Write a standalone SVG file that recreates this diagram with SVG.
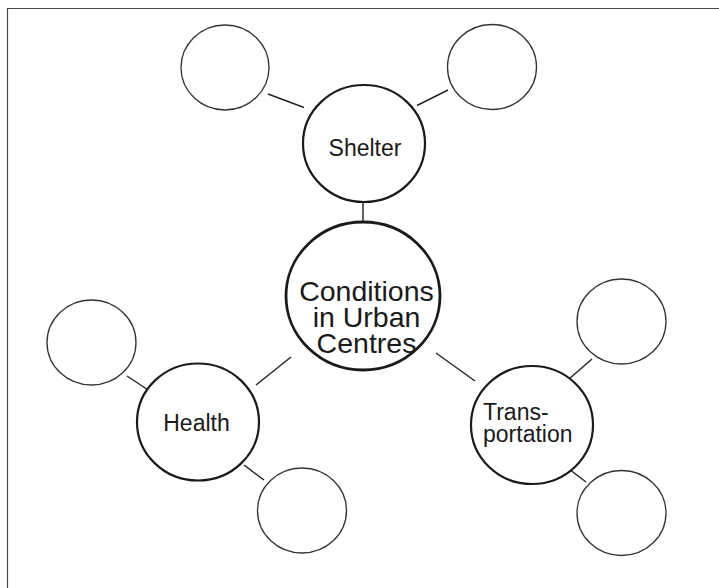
<svg xmlns="http://www.w3.org/2000/svg" width="719" height="588" viewBox="0 0 719 588">
<style>
.frame{fill:none;stroke:#444;stroke-width:1.2}
.small{fill:#fff;stroke:#333;stroke-width:1.3}
.main{fill:#fff;stroke:#1a1a1a;stroke-width:2.2}
.center{fill:#fff;stroke:#1a1a1a;stroke-width:2.8}
.conn line{stroke:#222;stroke-width:1.4}
text{font-family:"Liberation Sans",Arial,sans-serif;fill:#1a1a1a}
.lbl{font-size:23px}
.big{font-size:28.5px;text-anchor:middle}
</style>
<rect width="719" height="588" fill="#fff"/>
<path class="frame" d="M7.5,588 V8.5 H719"/>
<g id="connectors" class="conn">
<line x1="268" y1="94" x2="304" y2="107.5"/>
<line x1="417" y1="105.5" x2="448" y2="90"/>
<line x1="363" y1="200" x2="363" y2="224"/>
<line x1="256" y1="385" x2="291" y2="357"/>
<line x1="127" y1="376" x2="149" y2="390.5"/>
<line x1="244" y1="465" x2="264" y2="480"/>
<line x1="436" y1="353" x2="475" y2="381"/>
<line x1="592" y1="359" x2="569" y2="379"/>
<line x1="569" y1="469" x2="586" y2="482"/>
</g>
<g id="node-tl"><ellipse class="small" cx="225" cy="67.5" rx="44" ry="42.5"/></g>
<g id="node-tr"><ellipse class="small" cx="492" cy="67" rx="44.5" ry="42.5"/></g>
<g id="node-hl"><ellipse class="small" cx="91.5" cy="342.5" rx="44.5" ry="42.5"/></g>
<g id="node-hr"><ellipse class="small" cx="302" cy="510.5" rx="44.5" ry="42.5"/></g>
<g id="node-ttr"><ellipse class="small" cx="621.5" cy="321.5" rx="44.5" ry="42.5"/></g>
<g id="node-tbr"><ellipse class="small" cx="621.5" cy="513" rx="44.5" ry="42.5"/></g>
<g id="node-shelter">
<ellipse class="main" cx="364" cy="143.5" rx="61" ry="58.5"/>
<text class="lbl" x="365" y="156" text-anchor="middle">Shelter</text>
</g>
<g id="node-center">
<ellipse class="center" cx="363" cy="296" rx="77" ry="74"/>
<text class="big"><tspan x="366.5" y="301">Conditions</tspan><tspan x="366.5" y="327">in Urban</tspan><tspan x="366.5" y="353">Centres</tspan></text>
</g>
<g id="node-health">
<ellipse class="main" cx="198" cy="422" rx="61" ry="58.5"/>
<text class="lbl" x="196.5" y="431" text-anchor="middle">Health</text>
</g>
<g id="node-transport">
<ellipse class="main" cx="532" cy="425" rx="61" ry="59"/>
<text class="lbl"><tspan x="483" y="420">Trans-</tspan><tspan x="483" y="442">portation</tspan></text>
</g>
</svg>
